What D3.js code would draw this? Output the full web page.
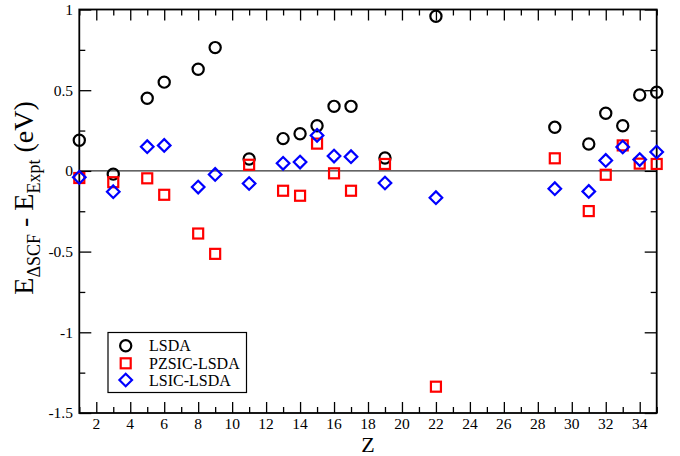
<!DOCTYPE html>
<html><head><meta charset="utf-8">
<script src="https://cdn.jsdelivr.net/npm/d3@7"></script>
<style>body{margin:0;background:#fff}svg{display:block}</style>
</head><body><svg id="c" width="680" height="456" font-family="'Liberation Serif', 'DejaVu Serif', serif"></svg>
<script>
const Z = [1,3,5,6,8,9,11,13,14,15,16,17,19,22,29,31,32,33,34,35];
const lsda  = [0.19,-0.02,0.45,0.55,0.63,0.764,0.074,0.20,0.23,0.28,0.40,0.40,0.08,0.958,0.27,0.167,0.357,0.28,0.47,0.487];
const pzsic = [-0.044,-0.07,-0.046,-0.148,-0.388,-0.514,0.038,-0.123,-0.154,0.169,-0.015,-0.123,0.043,-1.337,0.078,-0.249,-0.024,0.158,0.045,0.043];
const lsic  = [-0.04,-0.129,0.150,0.158,-0.10,-0.022,-0.078,0.047,0.055,0.22,0.092,0.088,-0.075,-0.166,-0.11,-0.127,0.065,0.148,0.07,0.117];
const xTicks = [2,4,6,8,10,12,14,16,18,20,22,24,26,28,30,32,34];
const yTicks = [1,0.5,0,-0.5,-1,-1.5];
const yTickLabels = ["1","0.5","0","-0.5","-1","-1.5"];
const seriesNames = ["LSDA","PZSIC-LSDA","LSIC-LSDA"];

const svg = d3.select("#c");
const L = 79.3, R = 656.7, T = 9.5, B = 413;
const x = d3.scaleLinear().domain([1,35]).range([L,R]);
const y = d3.scaleLinear().domain([-1.5,1]).range([B,T]);
const xMinor = d3.range(1,36);
const yMinor = d3.range(-1.5,1.001,0.25);

// zero line
svg.append("line").attr("x1",L).attr("x2",R).attr("y1",y(0)).attr("y2",y(0)).attr("stroke","#000").attr("stroke-width",1);

function styleAxis(g){ g.select(".domain").remove(); g.selectAll("line").attr("stroke","#000").attr("stroke-width",1.3); g.selectAll("text").remove(); }
svg.append("g").attr("transform",`translate(0,${B})`).call(d3.axisBottom(x).tickValues(xTicks).tickSize(-11)).call(styleAxis);
svg.append("g").attr("transform",`translate(0,${B})`).call(d3.axisBottom(x).tickValues(xMinor.filter(v=>v%2)).tickSize(-6)).call(styleAxis);
svg.append("g").attr("transform",`translate(0,${T})`).call(d3.axisTop(x).tickValues(xTicks).tickSize(-11)).call(styleAxis);
svg.append("g").attr("transform",`translate(0,${T})`).call(d3.axisTop(x).tickValues(xMinor.filter(v=>v%2)).tickSize(-6)).call(styleAxis);
svg.append("g").attr("transform",`translate(${L},0)`).call(d3.axisLeft(y).tickValues(yTicks).tickSize(-12)).call(styleAxis);
svg.append("g").attr("transform",`translate(${L},0)`).call(d3.axisLeft(y).tickValues(yMinor.filter(v=>Math.abs((v*2)%1)>0.1)).tickSize(-6)).call(styleAxis);
svg.append("g").attr("transform",`translate(${R},0)`).call(d3.axisRight(y).tickValues(yTicks).tickSize(-12)).call(styleAxis);
svg.append("g").attr("transform",`translate(${R},0)`).call(d3.axisRight(y).tickValues(yMinor.filter(v=>Math.abs((v*2)%1)>0.1)).tickSize(-6)).call(styleAxis);

// frame
svg.append("rect").attr("x",L).attr("y",T).attr("width",R-L).attr("height",B-T).attr("fill","none").attr("stroke","#000").attr("stroke-width",1.8);

// tick labels
svg.append("g").selectAll("text").data(xTicks).join("text")
  .attr("x",d=>x(d)).attr("y",429).attr("text-anchor","middle").attr("font-size",15.5).text(d=>d);
svg.append("g").selectAll("text").data(yTicks).join("text")
  .attr("x",73).attr("y",d=>y(d)).attr("dy","0.35em").attr("text-anchor","end").attr("font-size",15.5).text((d,i)=>yTickLabels[i]);

// axis titles
svg.append("text").attr("x",(L+R)/2).attr("y",452).attr("text-anchor","middle").attr("font-size",22).text("Z");
const yl = svg.append("text").attr("transform",`translate(33,198) rotate(-90)`).attr("text-anchor","middle").attr("font-size",28);
yl.append("tspan").text("E");
yl.append("tspan").attr("font-size",18).attr("dy",7).text("ΔSCF");
yl.append("tspan").attr("dy",-7).text(" - E");
yl.append("tspan").attr("font-size",18).attr("dy",7).text("Expt");
yl.append("tspan").attr("dy",-7).text(" (eV)");

// markers
const circ = (g,cx,cy)=>g.append("circle").attr("cx",cx).attr("cy",cy).attr("r",5.6).attr("fill","none").attr("stroke","#000").attr("stroke-width",2.2);
const sq = (g,cx,cy)=>g.append("rect").attr("x",cx-5).attr("y",cy-5).attr("width",10).attr("height",10).attr("fill","none").attr("stroke","#ff0000").attr("stroke-width",2.2);
const dia = (g,cx,cy)=>g.append("path").attr("d",`M${cx},${cy-6.3}L${cx+6.3},${cy}L${cx},${cy+6.3}L${cx-6.3},${cy}Z`).attr("fill","none").attr("stroke","#0000ff").attr("stroke-width",2.2);
const gm = svg.append("g");
Z.forEach((z,i)=>circ(gm,x(z),y(lsda[i])));
Z.forEach((z,i)=>sq(gm,x(z),y(pzsic[i])));
Z.forEach((z,i)=>dia(gm,x(z),y(lsic[i])));

// legend
const lg = svg.append("g");
lg.append("rect").attr("x",108).attr("y",332.5).attr("width",138.5).attr("height",60).attr("fill","#fff").attr("stroke","#000").attr("stroke-width",1.2);
const ly = [345.7,363.3,380];
circ(lg,125.7,ly[0]); sq(lg,125.7,ly[1]); dia(lg,125.7,ly[2]);
lg.selectAll("text.l").data(seriesNames).join("text").attr("class","l")
  .attr("x",149).attr("y",(d,i)=>ly[i]).attr("dy","0.35em").attr("font-size",16).text(d=>d);
</script></body></html>
